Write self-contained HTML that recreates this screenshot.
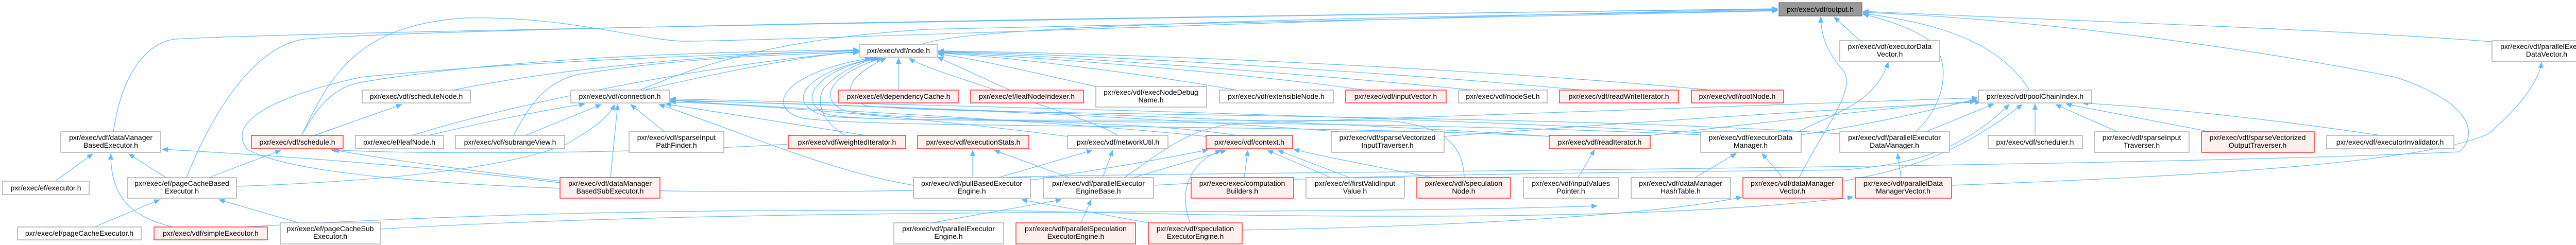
<!DOCTYPE html>
<html><head><meta charset="utf-8"><style>
html,body{margin:0;padding:0;background:#fff;}
svg{display:block;}
text{font-family:"Liberation Sans",sans-serif;font-size:14px;fill:#000;text-anchor:middle;}
.n{fill:#fff;stroke:#999;stroke-width:1.2;}
.r{fill:#fff0f0;stroke:#ff0000;stroke-width:1.2;}
.g{fill:#999;stroke:#666;stroke-width:1.2;}
.e{fill:none;stroke:#63b8ff;stroke-width:1.2;marker-end:url(#ah);}
</style></head><body>
<svg width="5056" height="476" viewBox="0 0 5056 476" xmlns="http://www.w3.org/2000/svg">
<defs><marker id="ah" markerWidth="12" markerHeight="10" refX="11" refY="5" orient="auto" markerUnits="userSpaceOnUse"><path d="M0,0 L12,5 L0,10 z" fill="#63b8ff"/></marker></defs>
<g>
<path class="e" d="M1790 86 C1900 40, 3000 30, 3450 20"/>
<path class="e" d="M220 256 C240 120, 300 80, 340 76 C600 60, 3000 22, 3450 17"/>
<path class="e" d="M362 345 C420 200, 500 90, 590 76 C900 50, 3000 22, 3450 18"/>
<path class="e" d="M586 262 C640 150, 690 50, 900 35 C1100 30, 1250 80, 1330 80 C1500 80, 3000 22, 3450 19"/>
<path class="e" d="M3610 79 L3560 33"/>
<path class="e" d="M3492 345 C3540 250, 3600 180, 3580 140 C3545 100, 3535 70, 3534 33"/>
<path class="e" d="M3718 256 C3780 200, 3790 110, 3740 75 C3700 50, 3650 35, 3616 28"/>
<path class="e" d="M3939 175 C3880 80, 3760 45, 3616 26"/>
<path class="e" d="M4837 81 C4500 55, 4000 40, 3616 22"/>
<path class="e" d="M1950 345 C2100 335, 4000 330, 4774 295 C4810 260, 4800 200, 4650 150 C4400 100, 4000 40, 3616 24"/>
<path class="e" d="M3788 360 C4200 345, 4700 320, 4830 260 C4900 200, 4930 150, 4933 121"/>
<path class="e" d="M3490 256 C3560 220, 3640 200, 3665 121"/>
<path class="e" d="M3496 262 C3700 230, 3800 200, 3838 192"/>
<path class="e" d="M3203 263 C3500 230, 3700 205, 3835 197"/>
<path class="e" d="M2803 265 C3200 235, 3600 210, 3845 198"/>
<path class="e" d="M3738 256 L3870 202"/>
<path class="e" d="M3950 263 L3950 202"/>
<path class="e" d="M4110 256 L3990 203"/>
<path class="e" d="M4290 256 L4010 202"/>
<path class="e" d="M4620 263 C4400 230, 4200 210, 4042 200"/>
<path class="e" d="M3576 352 C3700 330, 3800 300, 3925 203"/>
<path class="e" d="M3690 345 L3683 298"/>
<path class="e" d="M3290 345 L3370 298"/>
<path class="e" d="M3460 345 L3420 298"/>
<path class="e" d="M3063 345 L3095 291"/>
<path class="e" d="M1744 175 L1744 113"/>
<path class="e" d="M1960 175 L1820 111"/>
<path class="e" d="M2127 168 C2000 140, 1900 115, 1821 105"/>
<path class="e" d="M2400 175 C2200 140, 1950 110, 1821 103"/>
<path class="e" d="M2650 175 C2400 140, 2000 110, 1821 102"/>
<path class="e" d="M2860 175 C2500 140, 2000 105, 1821 101"/>
<path class="e" d="M3070 175 C2700 140, 2100 105, 1821 100"/>
<path class="e" d="M3320 175 C2900 135, 2200 103, 1821 99"/>
<path class="e" d="M1250 175 C1400 140, 1550 110, 1667 100"/>
<path class="e" d="M1242 175 C1350 130, 1500 75, 1800 57 C2500 40, 3200 25, 3450 21"/>
<path class="e" d="M880 175 C1100 130, 1400 105, 1667 98"/>
<path class="e" d="M586 262 C620 200, 650 170, 700 160 C1000 110, 1400 100, 1667 97"/>
<path class="e" d="M800 263 C1000 200, 1400 120, 1667 101"/>
<path class="e" d="M997 263 C1030 200, 1060 160, 1120 145 C1300 115, 1500 105, 1667 102"/>
<path class="e" d="M1773 370 C1200 380, 600 360, 480 290 C440 240, 520 190, 700 150 C1000 120, 1400 105, 1667 99"/>
<path class="e" d="M3010 265 C2500 240, 1700 250, 1560 230 C1480 210, 1520 140, 1690 113"/>
<path class="e" d="M3301 262 C2600 230, 1700 240, 1600 225 C1520 200, 1560 140, 1700 113"/>
<path class="e" d="M2400 263 C2200 230, 1700 235, 1640 215 C1580 190, 1620 140, 1712 113"/>
<path class="e" d="M3571 260 C3000 220, 1800 225, 1680 205 C1620 180, 1660 140, 1720 113"/>
<path class="e" d="M1640 263 C1600 240, 1580 200, 1600 170 C1630 140, 1660 125, 1700 113"/>
<path class="e" d="M2170 263 C2100 220, 1800 140, 1765 113"/>
<path class="e" d="M2842 345 C2840 280, 2800 245, 2700 235 C2000 230, 1650 240, 1600 220 C1540 190, 1600 130, 1705 113"/>
<path class="e" d="M1020 263 L1167 203"/>
<path class="e" d="M832 263 C950 235, 1050 215, 1135 202"/>
<path class="e" d="M1185 345 L1199 203"/>
<path class="e" d="M1290 256 L1224 203"/>
<path class="e" d="M459 362 C800 350, 1000 320, 1100 280 C1150 250, 1180 230, 1193 203"/>
<path class="e" d="M1680 263 L1292 202"/>
<path class="e" d="M1773 360 C1600 330, 1450 260, 1279 203"/>
<path class="e" d="M2341 265 C2000 230, 1500 210, 1301 195"/>
<path class="e" d="M3301 258 C2600 220, 1600 200, 1301 192"/>
<path class="e" d="M2072 265 C1800 230, 1500 205, 1301 198"/>
<path class="e" d="M3007 265 C2500 230, 1600 205, 1301 194"/>
<path class="e" d="M2600 256 C2200 225, 1600 200, 1301 196"/>
<path class="e" d="M610 263 L780 203"/>
<path class="e" d="M405 345 L545 292"/>
<path class="e" d="M1530 280 C1200 300, 800 300, 642 291"/>
<path class="e" d="M1087 352 C900 330, 750 310, 647 291"/>
<path class="e" d="M107 352 L180 299"/>
<path class="e" d="M322 345 L250 299"/>
<path class="e" d="M335 441 C250 420, 215 380, 215 299"/>
<path class="e" d="M1087 355 C800 320, 500 300, 315 290"/>
<path class="e" d="M183 441 L310 388"/>
<path class="e" d="M580 433 L425 388"/>
<path class="e" d="M2411 447 C2800 440, 3200 420, 3381 383"/>
<path class="e" d="M476 441 C1000 410, 1500 405, 2000 410 C2800 430, 3300 420, 3597 383"/>
<path class="e" d="M739 445 C1500 400, 2500 420, 3100 400"/>
<path class="e" d="M1888 345 L1888 292"/>
<path class="e" d="M1938 345 L2120 292"/>
<path class="e" d="M2000 350 C2200 320, 2300 300, 2345 291"/>
<path class="e" d="M2075 345 L1930 292"/>
<path class="e" d="M2140 345 L2160 292"/>
<path class="e" d="M2200 345 L2380 292"/>
<path class="e" d="M2415 345 L2422 292"/>
<path class="e" d="M2583 345 L2460 292"/>
<path class="e" d="M2620 345 L2480 292"/>
<path class="e" d="M2310 433 C2290 380, 2300 320, 2370 292"/>
<path class="e" d="M1808 433 L2060 388"/>
<path class="e" d="M2098 433 L2118 388"/>
<path class="e" d="M2230 433 L1983 388"/>
<path class="e" d="M2182 345 C2250 300, 2300 250, 2400 240 C3000 220, 3600 200, 3838 190"/>
<path class="e" d="M2780 345 C2600 310, 2550 300, 2511 290"/>
<path class="e" d="M2239 360 C2600 340, 3100 335, 3580 330 C3700 320, 3800 300, 3900 203"/>
</g>
<g>
<rect class="g" x="3453" y="5" width="161" height="26"/><text x="3533" y="23">pxr/exec/vdf/output.h</text>
<rect class="n" x="1669" y="86" width="150" height="25"/><text x="1744" y="103">pxr/exec/vdf/node.h</text>
<rect class="n" x="3571" y="79" width="194" height="40"/><text x="3668" y="95">pxr/exec/vdf/executorData</text><text x="3668" y="110">Vector.h</text>
<rect class="n" x="4837" y="79" width="213" height="40"/><text x="4943" y="95">pxr/exec/vdf/parallelExecutor</text><text x="4943" y="110">DataVector.h</text>
<rect class="n" x="3840" y="175" width="220" height="25"/><text x="3950" y="192">pxr/exec/vdf/poolChainIndex.h</text>
<rect class="n" x="1108" y="175" width="191" height="25"/><text x="1203" y="192">pxr/exec/vdf/connection.h</text>
<rect class="n" x="703" y="175" width="210" height="25"/><text x="808" y="192">pxr/exec/vdf/scheduleNode.h</text>
<rect class="r" x="1628" y="175" width="232" height="25"/><text x="1744" y="192">pxr/exec/ef/dependencyCache.h</text>
<rect class="r" x="1884" y="175" width="219" height="25"/><text x="1993" y="192">pxr/exec/ef/leafNodeIndexer.h</text>
<rect class="n" x="2127" y="168" width="215" height="40"/><text x="2234" y="184">pxr/exec/vdf/execNodeDebug</text><text x="2234" y="199">Name.h</text>
<rect class="n" x="2367" y="175" width="221" height="25"/><text x="2477" y="192">pxr/exec/vdf/extensibleNode.h</text>
<rect class="r" x="2612" y="175" width="195" height="25"/><text x="2709" y="192">pxr/exec/vdf/inputVector.h</text>
<rect class="n" x="2831" y="175" width="172" height="25"/><text x="2917" y="192">pxr/exec/vdf/nodeSet.h</text>
<rect class="r" x="3027" y="175" width="231" height="25"/><text x="3142" y="192">pxr/exec/vdf/readWriteIterator.h</text>
<rect class="r" x="3283" y="175" width="179" height="25"/><text x="3372" y="192">pxr/exec/vdf/rootNode.h</text>
<rect class="n" x="118" y="256" width="194" height="40"/><text x="215" y="272">pxr/exec/vdf/dataManager</text><text x="215" y="287">BasedExecutor.h</text>
<rect class="r" x="488" y="263" width="178" height="26"/><text x="577" y="281">pxr/exec/vdf/schedule.h</text>
<rect class="n" x="690" y="263" width="171" height="26"/><text x="775" y="281">pxr/exec/ef/leafNode.h</text>
<rect class="n" x="884" y="263" width="212" height="26"/><text x="990" y="281">pxr/exec/vdf/subrangeView.h</text>
<rect class="n" x="1221" y="256" width="184" height="40"/><text x="1313" y="272">pxr/exec/vdf/sparseInput</text><text x="1313" y="287">PathFinder.h</text>
<rect class="r" x="1530" y="263" width="228" height="26"/><text x="1644" y="281">pxr/exec/vdf/weightedIterator.h</text>
<rect class="r" x="1781" y="263" width="216" height="26"/><text x="1889" y="281">pxr/exec/vdf/executionStats.h</text>
<rect class="n" x="2072" y="263" width="195" height="26"/><text x="2170" y="281">pxr/exec/vdf/networkUtil.h</text>
<rect class="r" x="2341" y="263" width="168" height="26"/><text x="2425" y="281">pxr/exec/vdf/context.h</text>
<rect class="n" x="2584" y="256" width="219" height="40"/><text x="2693" y="272">pxr/exec/vdf/sparseVectorized</text><text x="2693" y="287">InputTraverser.h</text>
<rect class="r" x="3007" y="263" width="196" height="26"/><text x="3105" y="281">pxr/exec/vdf/readIterator.h</text>
<rect class="n" x="3301" y="256" width="195" height="40"/><text x="3398" y="272">pxr/exec/vdf/executorData</text><text x="3398" y="287">Manager.h</text>
<rect class="n" x="3571" y="256" width="213" height="40"/><text x="3677" y="272">pxr/exec/vdf/parallelExecutor</text><text x="3677" y="287">DataManager.h</text>
<rect class="n" x="3859" y="263" width="183" height="26"/><text x="3950" y="281">pxr/exec/vdf/scheduler.h</text>
<rect class="n" x="4065" y="256" width="184" height="40"/><text x="4157" y="272">pxr/exec/vdf/sparseInput</text><text x="4157" y="287">Traverser.h</text>
<rect class="r" x="4273" y="256" width="219" height="40"/><text x="4382" y="272">pxr/exec/vdf/sparseVectorized</text><text x="4382" y="287">OutputTraverser.h</text>
<rect class="n" x="4516" y="263" width="247" height="26"/><text x="4639" y="281">pxr/exec/vdf/executorInvalidator.h</text>
<rect class="n" x="5" y="352" width="168" height="26"/><text x="89" y="370">pxr/exec/ef/executor.h</text>
<rect class="n" x="247" y="345" width="212" height="40"/><text x="353" y="361">pxr/exec/ef/pageCacheBased</text><text x="353" y="376">Executor.h</text>
<rect class="r" x="1087" y="345" width="194" height="40"/><text x="1184" y="361">pxr/exec/vdf/dataManager</text><text x="1184" y="376">BasedSubExecutor.h</text>
<rect class="n" x="1773" y="345" width="227" height="40"/><text x="1886" y="361">pxr/exec/vdf/pullBasedExecutor</text><text x="1886" y="376">Engine.h</text>
<rect class="n" x="2025" y="345" width="214" height="40"/><text x="2132" y="361">pxr/exec/vdf/parallelExecutor</text><text x="2132" y="376">EngineBase.h</text>
<rect class="r" x="2312" y="345" width="199" height="40"/><text x="2411" y="361">pxr/exec/exec/computation</text><text x="2411" y="376">Builders.h</text>
<rect class="n" x="2535" y="345" width="191" height="40"/><text x="2630" y="361">pxr/exec/ef/firstValidInput</text><text x="2630" y="376">Value.h</text>
<rect class="r" x="2750" y="345" width="182" height="40"/><text x="2841" y="361">pxr/exec/vdf/speculation</text><text x="2841" y="376">Node.h</text>
<rect class="n" x="2957" y="345" width="184" height="40"/><text x="3049" y="361">pxr/exec/vdf/inputValues</text><text x="3049" y="376">Pointer.h</text>
<rect class="n" x="3166" y="345" width="193" height="40"/><text x="3262" y="361">pxr/exec/vdf/dataManager</text><text x="3262" y="376">HashTable.h</text>
<rect class="r" x="3383" y="345" width="193" height="40"/><text x="3479" y="361">pxr/exec/vdf/dataManager</text><text x="3479" y="376">Vector.h</text>
<rect class="r" x="3601" y="345" width="187" height="40"/><text x="3694" y="361">pxr/exec/vdf/parallelData</text><text x="3694" y="376">ManagerVector.h</text>
<rect class="n" x="34" y="441" width="240" height="25"/><text x="154" y="458">pxr/exec/ef/pageCacheExecutor.h</text>
<rect class="r" x="299" y="441" width="220" height="25"/><text x="409" y="458">pxr/exec/vdf/simpleExecutor.h</text>
<rect class="n" x="544" y="433" width="195" height="41"/><text x="641" y="449">pxr/exec/ef/pageCacheSub</text><text x="641" y="464">Executor.h</text>
<rect class="n" x="1735" y="433" width="213" height="41"/><text x="1841" y="449">pxr/exec/vdf/parallelExecutor</text><text x="1841" y="464">Engine.h</text>
<rect class="r" x="1972" y="433" width="232" height="41"/><text x="2088" y="449">pxr/exec/vdf/parallelSpeculation</text><text x="2088" y="464">ExecutorEngine.h</text>
<rect class="r" x="2229" y="433" width="182" height="41"/><text x="2320" y="449">pxr/exec/vdf/speculation</text><text x="2320" y="464">ExecutorEngine.h</text>
</g>
</svg>
</body></html>
